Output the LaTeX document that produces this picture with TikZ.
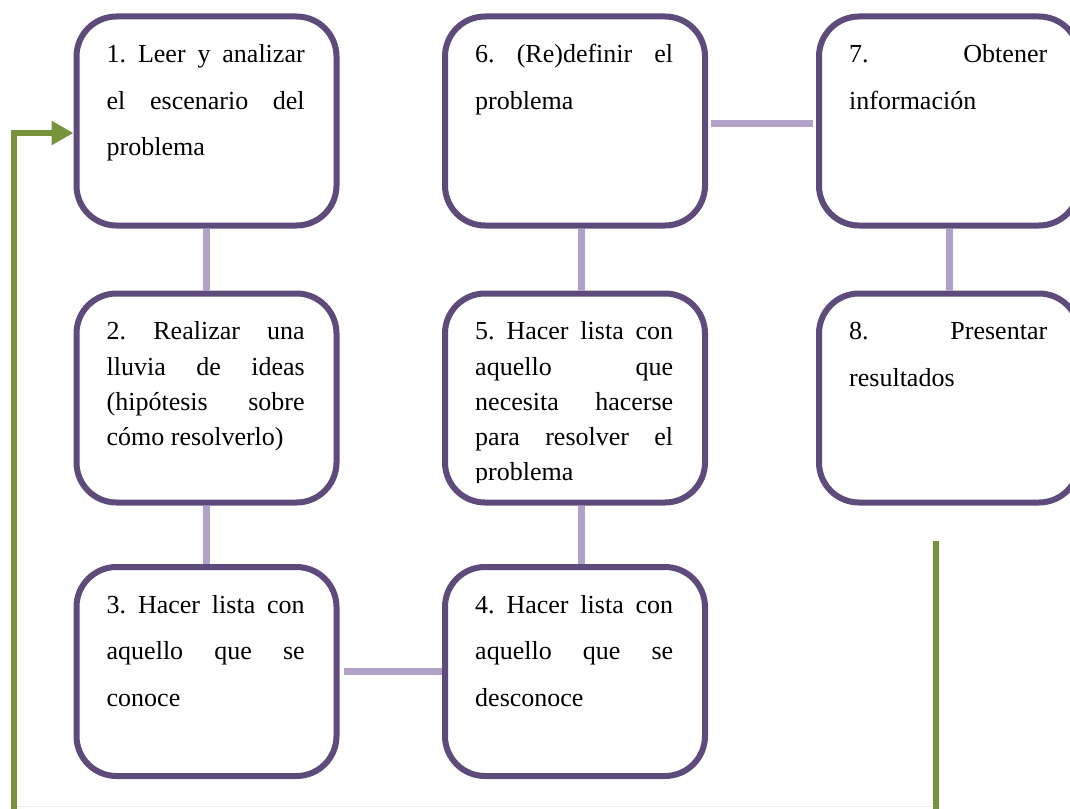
\documentclass[tikz,border=0pt]{standalone}
\usepackage{fontspec}
\setmainfont{Liberation Serif}
\usetikzlibrary{positioning}
\usetikzlibrary{arrows.meta}
\definecolor{boxp}{HTML}{5F4B7B}
\definecolor{linkp}{HTML}{B3A2C7}
\definecolor{loopg}{HTML}{77933C}
\tolerance=10000
\hbadness=10000
\frenchspacing
\tikzset{
    mybox/.style = {rectangle, rounded corners=40pt, line width=6pt, draw=boxp, fill=white, minimum width=260pt, minimum height=209pt, inner sep=0pt, outer sep=3pt},
    mytext/.style = {anchor=north west, inner sep=0pt, text width=198pt, align=justify, font=\fontsize{26}{46.5}\selectfont},
    mytextc/.style = {mytext, font=\fontsize{26}{35.3}\selectfont}, % tighter lines
    edgep/.style = {line width=7pt, linkp},
    edgeg/.style = {line width=6pt, loopg},
    edgega/.style = {edgeg, -{Triangle[length=22pt,width=23pt]}}, % back to start
    rulel/.style = {line width=1pt, black!8}
}
\newcommand{\R}{\rule{0pt}{20pt}}

\begin{document}
\begin{tikzpicture}[x=1pt,y=-1pt]
\clip (0,0) rectangle (1070,808);
\node[mybox] at (206.5,121.0) (b1) {};
\node[mybox] at (206.5,398.0) (b2) {};
\node[mybox] at (206.5,671.5) (b3) {};
\node[mybox] at (575.0,671.5) (b4) {};
\node[mybox] at (575.0,398.0) (b5) {};
\node[mybox] at (575.0,121.0) (b6) {};
\node[mybox] at (949.0,121.0) (b7) {};
\node[mybox] at (949.0,398.0) (b8) {};
%
\node[mytext] at ([xshift=33pt,yshift=-29pt]b1.north west) (t1) {\R 1. Leer y analizar\linebreak el escenario del\linebreak problema};
\node[mytextc] at ([xshift=33pt,yshift=-29pt]b2.north west) (t2) {\R 2. Realizar una\linebreak lluvia de ideas\linebreak (hipótesis sobre\linebreak cómo resolverlo)};
\node[mytext] at ([xshift=33pt,yshift=-29pt]b3.north west) (t3) {\R 3. Hacer lista con\linebreak aquello que se\linebreak conoce};
\node[mytext] at ([xshift=33pt,yshift=-29pt]b4.north west) (t4) {\R 4. Hacer lista con\linebreak aquello que se\linebreak desconoce};
\begin{scope}
\clip (b5.north west) rectangle ([yshift=23pt]b5.south east);
\node[mytextc] at ([xshift=33pt,yshift=-29pt]b5.north west) (t5) {\R 5. Hacer lista con\linebreak aquello que\linebreak necesita hacerse\linebreak para resolver el\linebreak problema};
\end{scope}
\node[mytext] at ([xshift=33pt,yshift=-29pt]b6.north west) (t6) {\R 6. (Re)definir el\linebreak problema};
\node[mytext] at ([xshift=33pt,yshift=-29pt]b7.north west) (t7) {\R 7. Obtener\linebreak información};
\node[mytext] at ([xshift=33pt,yshift=-29pt]b8.north west) (t8) {\R 8. Presentar\linebreak resultados};
%
\draw[edgep] (b1) -- (b2);
\draw[edgep] (b2) -- (b3);
\draw[edgep,shorten <=4pt] (b3) -- (b4);
\draw[edgep] ([xshift=6pt]b5.south) -- ([xshift=6pt]b4.north);
\draw[edgep] ([xshift=6pt]b6.south) -- ([xshift=6pt]b5.north);
\draw[edgep,shorten <=3pt,shorten >=3pt] ([yshift=-2pt]b6.east) -- ([yshift=-2pt]b7.west);
\draw[edgep] (b7) -- (b8);
%
\coordinate (g0) at (13.5,812);
\coordinate (g1) at (935.5,541);
\coordinate (g2) at (935.5,812);
\coordinate (f0) at (17,806.5);
\coordinate (f1) at (932,806.5);
\draw[rulel] (f0) -- (f1);
\draw[edgega] (g0) |- ([yshift=-12pt]b1.west);
\draw[edgeg] (g1) -- (g2);
\end{tikzpicture}
\end{document}
